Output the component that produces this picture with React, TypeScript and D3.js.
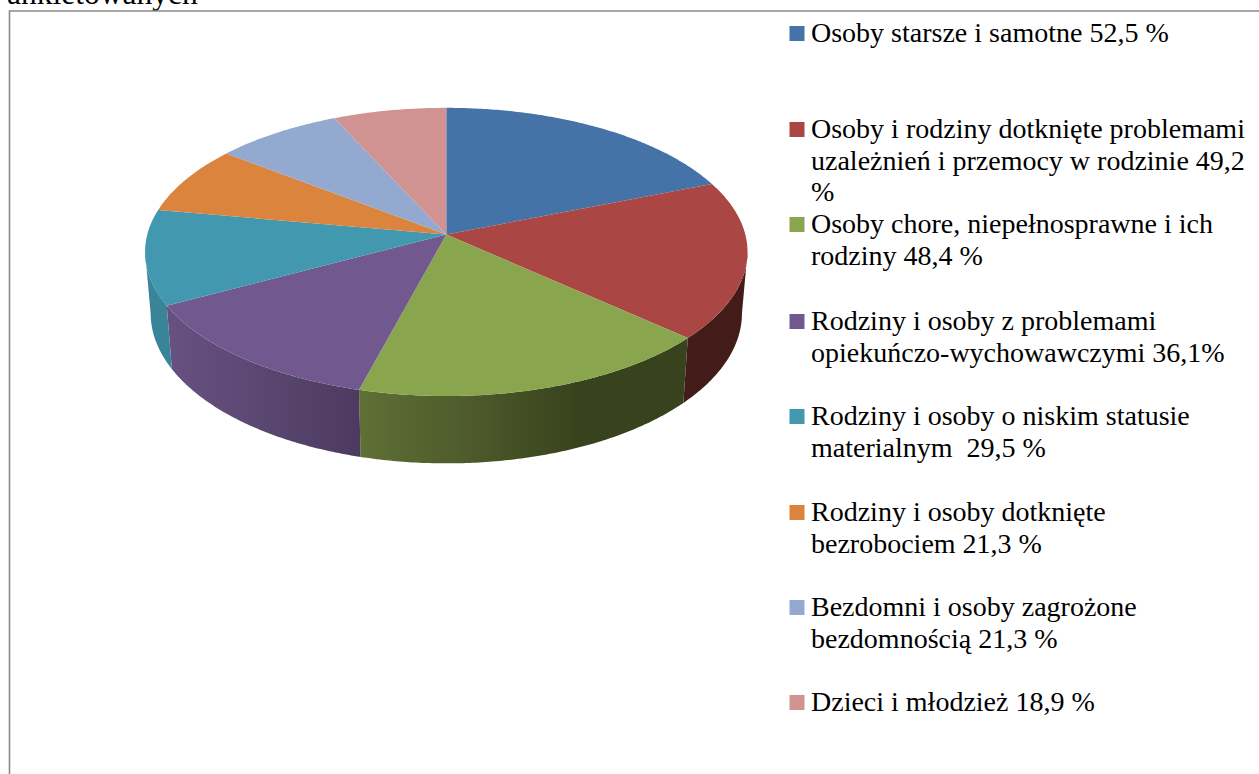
import React from "react";
import * as d3 from "d3";

const categories = [
  "Osoby starsze i samotne",
  "Osoby i rodziny dotknięte problemami uzależnień i przemocy w rodzinie",
  "Osoby chore, niepełnosprawne i ich rodziny",
  "Rodziny i osoby z problemami opiekuńczo-wychowawczymi",
  "Rodziny i osoby o niskim statusie materialnym",
  "Rodziny i osoby dotknięte bezrobociem",
  "Bezdomni i osoby zagrożone bezdomnością",
  "Dzieci i młodzież",
];
const values = [52.5, 49.2, 48.4, 36.1, 29.5, 21.3, 21.3, 18.9];
const colors = ["#4572a7", "#aa4643", "#89a54e", "#71588f", "#4198af", "#db843d", "#93a9cf", "#d19392"];
const wallStops = [
  ["#2c4a6d", "#2c4a6d"],
  ["#431c1a", "#431c1a"],
  ["#5f7035", "#4e5a2b", "#38421d", "#38421d"],
  ["#675180", "#5a4771", "#4d3a60"],
  ["#3a8499", "#3a8499"],
  ["#8c5526", "#8c5526"],
  ["#5f6e88", "#5f6e88"],
  ["#875f5e", "#875f5e"],
];
const legendLines = [
  ["Osoby starsze i samotne 52,5 %"],
  ["Osoby i rodziny dotknięte problemami", "uzależnień i przemocy w rodzinie 49,2", "%"],
  ["Osoby chore, niepełnosprawne i ich", "rodziny 48,4 %"],
  ["Rodziny i osoby z problemami", "opiekuńczo-wychowawczymi 36,1%"],
  ["Rodziny i osoby o niskim statusie", "materialnym  29,5 %"],
  ["Rodziny i osoby dotknięte", "bezrobociem 21,3 %"],
  ["Bezdomni i osoby zagrożone", "bezdomnością 21,3 %"],
  ["Dzieci i młodzież 18,9 %"],
];
const legendBaselines = [42, 138, 233, 330, 425, 521, 616, 711];
const pageTitle = "ankietowanych";

const W = 1259;
const H = 774;
const FONT = "'Liberation Serif', serif";
const LEGEND_SIZE = 28;
const LINE = 31.5;
const TAU = Math.PI * 2;
const APEX: [number, number] = [446.3, 234.5];

const pieGen = d3.pie<number>().sort(null).startAngle(0).endAngle(TAU);
const arcs = pieGen(values);

const K = 0.121;
const project = (cx: number, cy: number, a: number, b: number) => (t: number): [number, number] => {
  const d = 1 + K * Math.cos(t);
  return [cx + (a * Math.sin(t)) / d, cy - (b * Math.cos(t)) / d];
};
const topRing = project(APEX[0], APEX[1], 299, 142);
const botRing = project(APEX[0], 295, 293.5, 148);

const lineGen = d3.line<[number, number]>();
const sample = (a0: number, a1: number) => {
  const n = Math.max(2, Math.ceil(Math.abs(a1 - a0) / 0.01));
  return d3.range(n + 1).map((i) => a0 + ((a1 - a0) * i) / n);
};

const wallFrom = Math.acos(-K);
const wallTo = TAU - wallFrom;

export default function App() {
  const slices = arcs.map((s, i) => {
    const pts = sample(s.startAngle, s.endAngle).map(topRing);
    const top = lineGen([APEX, ...pts])! + "Z";
    const a0 = Math.max(s.startAngle, wallFrom);
    const a1 = Math.min(s.endAngle, wallTo);
    let wall: string | null = null;
    let x0 = 0;
    let x1 = 0;
    if (a1 > a0) {
      const t = sample(a0, a1);
      const up = t.map(topRing);
      const down = t.map(botRing).reverse();
      const all = [...up, ...down];
      wall = lineGen(all)! + "Z";
      [x0, x1] = d3.extent(all, (p) => p[0]) as [number, number];
    }
    return { i, top, wall, x0, x1 };
  });

  return (
    <svg
      width={W}
      height={H}
      viewBox={`0 0 ${W} ${H}`}
      style={{ position: "absolute", left: 0, top: 0, background: "#fff", overflow: "hidden" }}
    >
      <defs>
        {slices.map((s) =>
          s.wall ? (
            <linearGradient key={s.i} id={`wall${s.i}`} gradientUnits="userSpaceOnUse" x1={s.x0} x2={s.x1} y1={0} y2={0}>
              {wallStops[s.i].map((c, j, arr) => (
                <stop key={j} offset={j / (arr.length - 1)} stopColor={c} />
              ))}
            </linearGradient>
          ) : null
        )}
      </defs>
      <text x={7} y={4} fontFamily={FONT} fontSize={31.5} fill="#000">{pageTitle}</text>
      <path d="M9.5 780V11H1265" fill="none" stroke="#8a8a8a" strokeWidth={1.6} />
      {slices.map((s) => (s.wall ? <path key={s.i} d={s.wall} fill={`url(#wall${s.i})`} /> : null))}
      {slices.map((s) => (
        <path key={s.i} d={s.top} fill={colors[s.i]} />
      ))}
      {categories.map((c, i) => (
        <g key={c}>
          <rect x={789.5} y={legendBaselines[i] - 16} width={15} height={15} fill={colors[i]} />
          <text x={811} y={legendBaselines[i]} fontFamily={FONT} fontSize={LEGEND_SIZE} fill="#000" xmlSpace="preserve">
            {legendLines[i].map((l, j) => (
              <tspan key={j} x={811} y={legendBaselines[i] + j * LINE}>{l}</tspan>
            ))}
          </text>
        </g>
      ))}
    </svg>
  );
}
